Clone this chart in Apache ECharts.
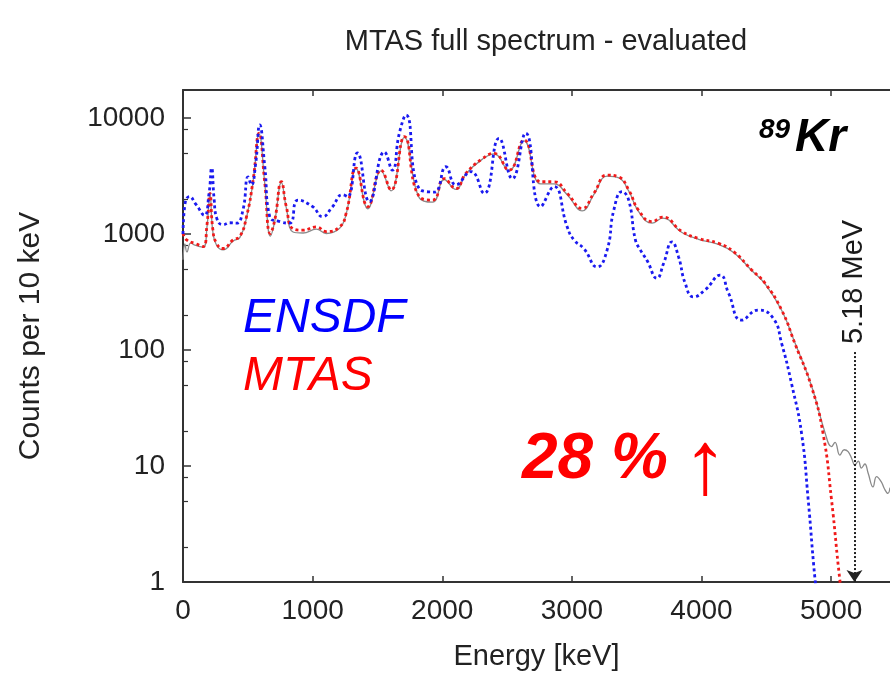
<!DOCTYPE html>
<html>
<head>
<meta charset="utf-8">
<script src="https://cdn.jsdelivr.net/npm/echarts@6/dist/echarts.min.js"></script>
<style>html,body{margin:0;padding:0;background:#fff;}#c{width:890px;height:676px;}</style>
</head>
<body>
<div id="c"></div>
<script>
// ---- data (energy in keV, counts per 10 keV) ----
const ensdfE = [0,15,50,100,165,200,221,240,260,308,360,413,462,502,528,560,592,631,669,746,823,887,1000,1077,1150,1231,1270,1346,1438,1554,1615,1669,1721,1823,1938,2028,2105,2221,2323,2438,2541,2644,2759,2862,2964,3015,3092,3195,3272,3323,3387,3438,3490,3528,3580,3656,3708,3772,3823,3874,3938,4028,4144,4208,4310,4438,4554,4618,4695,4772,4823,4874,4892];
const ensdfV = [1000,1800,2100,1800,1450,2200,3700,2000,1370,1200,1250,1240,1600,3100,2650,4000,8700,3800,1410,1280,1240,1960,1720,1410,1700,2180,2100,5000,1900,5100,3550,7400,10600,2460,2300,3800,2650,3450,2240,6680,3000,7400,1720,2560,1150,890,750,520,730,1600,2320,1960,890,730,590,415,560,855,635,376,287,330,442,310,181,221,187,114,51,19,5.1,1.1,0.8];

const mtasE = [0,28,92,156,185,208,230,259,310,387,438,490,541,587,631,674,708,759,797,849,926,1028,1105,1208,1259,1336,1426,1528,1605,1708,1823,1926,2015,2105,2182,2310,2400,2515,2631,2759,2862,2964,3079,3169,3272,3362,3438,3515,3618,3700,3849,3977,4131,4250,4387,4490,4618,4720,4849,4938,5003,5067,5085];
const mtasV = [1010,890,830,780,1200,2240,1100,830,750,890,950,1410,2920,7400,2750,1010,1320,2820,1720,1110,1080,1150,1050,1150,1510,3700,1720,3550,2400,6900,2100,1960,3000,2460,3330,4460,4950,3550,6450,2820,2820,2240,1660,2240,3220,3100,2400,1600,1280,1400,1050,915,830,700,490,376,221,114,48,19,5.1,1.04,0.8];

const expE = [0,15,30,60,92,156,185,208,230,259,310,387,438,490,541,587,631,674,708,759,797,849,926,1028,1105,1208,1259,1336,1426,1528,1605,1708,1823,1926,2015,2105,2182,2310,2400,2515,2631,2759,2862,2964,3079,3169,3272,3362,3438,3515,3618,3700,3849,3977,4131,4250,4387,4490,4618,4720,4849,4951,5003,5030,5067,5100,5131,5160,5182,5210,5233,5260,5285,5323,5350,5387,5410,5438,5454];
const expV = [600,820,700,840,800,770,1150,2200,1050,800,730,870,930,1380,2850,7300,2700,960,1290,2780,1680,1040,1020,1100,1010,1120,1490,3650,1650,3500,2350,6800,2050,1880,2950,2420,3300,4420,4900,3500,6350,2700,2700,2180,1580,2180,3150,3050,2350,1560,1240,1370,1030,900,815,690,485,372,220,116,49,19.7,14.7,16,12.4,13.8,13.3,11.5,10.2,11,9.6,10.4,8.7,6.6,8.1,7.3,6.4,5.8,6.5];

const xTicks = [0,1000,2000,3000,4000,5000];
const minorY = [2,5,8,20,50,80,200,500,800,2000,5000,8000];
const qEnergy = 5180;      // Q-value marker (keV)
const qArrowTop = 96;      // arrow start (counts)
const qLabelAt = 386;      // label centre (counts)

const pairs = (E, V) => E.map((e, i) => [e, V[i]]);
const FONT = '"Liberation Sans", Arial, Helvetica, sans-serif';
const YMAX = 17430, XMAX = 5454;

const chart = echarts.init(document.getElementById('c'), null, {renderer: 'canvas'});
chart.setOption({
  animation: false,
  backgroundColor: '#fff',
  title: {
    text: 'MTAS full spectrum - evaluated',
    left: 541, top: 22, textAlign: 'center',
    textStyle: {fontFamily: FONT, fontSize: 29, fontWeight: 'normal', color: '#222'}
  },
  grid: {left: 183, top: 90, right: -2, bottom: 94, show: false},
  xAxis: [{
    type: 'value', min: 0, max: XMAX, interval: 1000,
    name: 'Energy [keV]', nameLocation: 'middle', nameGap: 60,
    nameTextStyle: {fontFamily: FONT, fontSize: 29, color: '#222'},
    axisLine: {lineStyle: {color: '#333', width: 2}},
    axisTick: {inside: true, length: 6, lineStyle: {color: '#333', width: 1.5}, customValues: xTicks},
    axisLabel: {fontFamily: FONT, fontSize: 28, color: '#222', margin: 15, customValues: xTicks,
      formatter: v => String(v)},
    splitLine: {show: false}
  }, {
    type: 'value', position: 'top', min: 0, max: XMAX, interval: 1000,
    axisLine: {lineStyle: {color: '#333', width: 2}},
    axisTick: {inside: true, length: 6, lineStyle: {color: '#333', width: 1.5}, customValues: xTicks},
    axisLabel: {show: false},
    splitLine: {show: false}
  }],
  yAxis: [{
    type: 'log', logBase: 10, min: 1, max: YMAX,
    name: 'Counts per 10 keV', nameLocation: 'middle', nameGap: 137, nameRotate: 90,
    nameTextStyle: {fontFamily: FONT, fontSize: 30, color: '#222'},
    axisLine: {lineStyle: {color: '#333', width: 2}},
    axisTick: {inside: true, length: 8, lineStyle: {color: '#333', width: 1.5}},
    axisLabel: {fontFamily: FONT, fontSize: 28, color: '#222', margin: 18, showMaxLabel: false,
      formatter: v => String(Math.round(v))},
    splitLine: {show: false}
  }, {
    type: 'log', logBase: 10, min: 1, max: YMAX, position: 'left',
    axisLine: {show: false},
    axisTick: {inside: true, length: 5, lineStyle: {color: '#333', width: 1.2}, customValues: minorY},
    axisLabel: {show: false},
    splitLine: {show: false}
  }],
  series: [{
    name: 'Experiment', type: 'line', data: pairs(expE, expV), smooth: 0.45,
    showSymbol: false, symbol: 'none', z: 1,
    lineStyle: {color: '#8a8a8a', width: 1.3}
  }, {
    name: 'MTAS', type: 'line', data: pairs(mtasE, mtasV), smooth: 0.5,
    showSymbol: false, symbol: 'none', z: 2,
    lineStyle: {color: '#f01a1a', width: 2.8, type: [3, 3]}
  }, {
    name: 'ENSDF', type: 'line', data: pairs(ensdfE, ensdfV), smooth: 0.5,
    showSymbol: false, symbol: 'none', z: 3,
    lineStyle: {color: '#1a1af0', width: 2.8, type: [3, 3]}
  }, {
    name: 'Q', type: 'scatter', data: [[qEnergy, qLabelAt]], symbolSize: 1, z: 4,
    itemStyle: {opacity: 0},
    label: {show: true, position: 'inside', rotate: 90, formatter: '5.18 MeV',
      fontFamily: FONT, fontSize: 29, color: '#1a1a1a', opacity: 1},
    markLine: {
      silent: true, symbol: ['none', 'arrow'], symbolSize: 12,
      label: {show: false},
      lineStyle: {color: '#222', width: 2, type: [2, 2], opacity: 1},
      data: [[{coord: [qEnergy, qArrowTop]}, {coord: [qEnergy, 1]}]]
    }
  }],
  graphic: [
    {type: 'text', x: 243, y: 319, style: {text: 'ENSDF', font: 'italic 48px ' + FONT, fill: '#0000ff', verticalAlign: 'middle'}},
    {type: 'text', x: 243, y: 377, style: {text: 'MTAS', font: 'italic 48px ' + FONT, fill: '#ff0000', verticalAlign: 'middle'}},
    {type: 'text', x: 522, y: 460, style: {text: '28 %', font: 'italic bold 64px ' + FONT, fill: '#ff0000', verticalAlign: 'middle'}},
    {type: 'text', x: 705, y: 468, style: {text: '↑', font: '90px ' + FONT, fill: '#ff0000', align: 'center', verticalAlign: 'middle'}},
    {type: 'text', x: 759, y: 130, style: {text: '89', font: 'italic bold 28px ' + FONT, fill: '#000', verticalAlign: 'middle'}},
    {type: 'text', x: 795, y: 138, style: {text: 'Kr', font: 'italic bold 46px ' + FONT, fill: '#000', verticalAlign: 'middle'}}
  ]
});
</script>
</body>
</html>
